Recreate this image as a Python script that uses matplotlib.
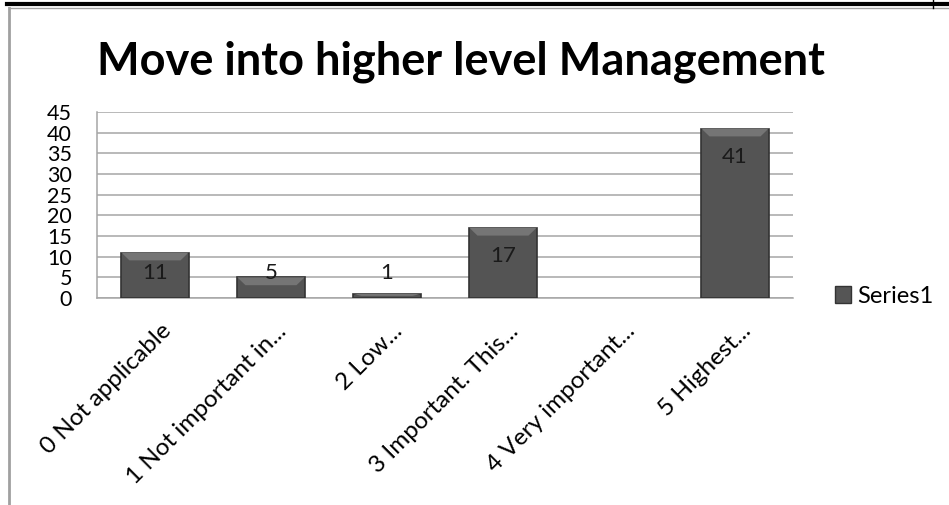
import numpy as np
import matplotlib.pyplot as plt
import matplotlib.transforms as mtransforms
from matplotlib.lines import Line2D
from matplotlib.patches import Patch, Polygon

# chart data
categories = ['0 Not applicable', '1 Not important in...', '2 Low...',
              '3 Important. This...', '4 Very important...', '5 Highest...']
values = [11, 5, 1, 17, 0, 41]
yticks = [0, 5, 10, 15, 20, 25, 30, 35, 40, 45]
title = 'Move into higher level Management'
series_name = 'Series1'

plt.rcParams['font.family'] = ['Lato', 'DejaVu Sans']

fig = plt.figure(figsize=(9.49, 5.05), dpi=100)
ax = fig.add_axes([0.1022, 0.4099, 0.7334, 0.3683])

x = np.arange(len(categories))
bars = ax.bar(x, values, width=0.58, color='#545454', edgecolor='#333333',
              linewidth=1.2, zorder=3)

# light bevel on top of every bar (Excel "3D" look); empty bars draw nothing
for b in bars:
    h = b.get_height()
    if h <= 0:
        b.set_linewidth(0)
        continue
    x0, w = b.get_x(), b.get_width()
    dy = min(1.9, h / 2)
    dx = 0.07
    ax.add_patch(Polygon([(x0, h), (x0 + w, h), (x0 + w - dx, h - dy), (x0 + dx, h - dy)],
                         closed=True, facecolor='#757575', edgecolor='none', zorder=3.5))

# data labels, Excel style: inside the top, but never lower than a floor
for xi, v in zip(x, values):
    if v == 0:
        continue
    ax.text(xi, max(v - 6.8, 6.0), str(v), ha='center', va='center',
            fontsize=16, color='#1a1a1a', zorder=4)

ax.set_xlim(-0.5, len(categories) - 0.5)
ax.set_ylim(0, 45)
ax.set_yticks(yticks)
ax.set_yticklabels([str(t) for t in yticks], fontsize=15.5)
ax.yaxis.grid(True, color='#a6a6a6', linewidth=1.1, zorder=0)
ax.tick_params(axis='y', length=0, pad=18)
ax.tick_params(axis='x', length=0, pad=16)
ax.set_xticks(x)
ax.set_xticklabels(categories, rotation=45, ha='right', rotation_mode='anchor',
                   fontsize=17.5)
shift = mtransforms.ScaledTranslation(0.05, 0, fig.dpi_scale_trans)
for lbl in ax.get_xticklabels():
    lbl.set_transform(lbl.get_transform() + shift)

for side in ['top', 'right']:
    ax.spines[side].set_visible(False)
ax.spines['left'].set_color('#a6a6a6')
ax.spines['bottom'].set_color('#a6a6a6')
ax.spines['left'].set_linewidth(1.1)
ax.spines['bottom'].set_linewidth(1.1)

fig.text(0.4858, 0.877, title, ha='center', va='center', fontsize=32.5,
         fontweight='bold')

fig.legend(handles=[Patch(facecolor='#555555', edgecolor='#333333', label=series_name)],
           loc='center left', bbox_to_anchor=(0.857, 0.413), frameon=False,
           fontsize=17, handlelength=0.7, handleheight=0.7, handletextpad=0.25)

# page frame lines from the scanned document
fig.add_artist(Line2D([0.007, 1.0], [0.992, 0.992], color='black', linewidth=3,
                      transform=fig.transFigure))
fig.add_artist(Line2D([0.009, 1.0], [0.985, 0.985], color='#a0a0a0', linewidth=1,
                      transform=fig.transFigure))
fig.add_artist(Line2D([0.009, 0.009], [0.0, 0.985], color='#a0a0a0', linewidth=2,
                      transform=fig.transFigure))
fig.add_artist(Line2D([0.983, 0.983], [0.985, 1.0], color='black', linewidth=1,
                      transform=fig.transFigure))

fig.savefig('out.png', dpi=100)
